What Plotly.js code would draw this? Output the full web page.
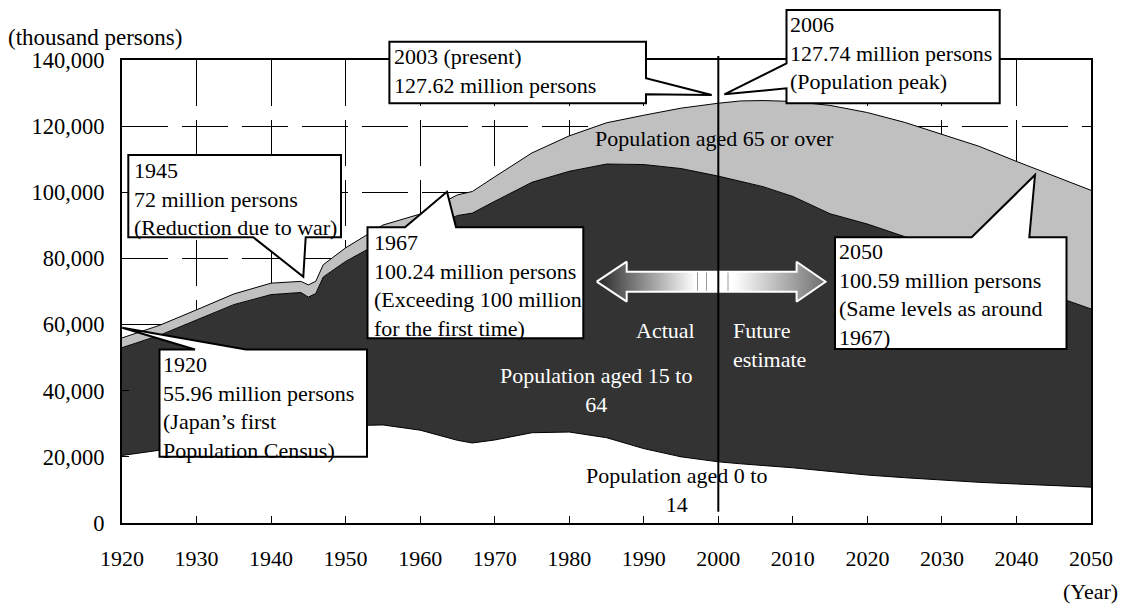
<!DOCTYPE html>
<html>
<head>
<meta charset="utf-8">
<script src="https://cdn.plot.ly/plotly-3.0.1.min.js"></script>
<style>
  html, body { margin: 0; padding: 0; background: #ffffff; }
  #chart { width: 1127px; height: 605px; }
</style>
</head>
<body>
<div id="chart"></div>
<script>
// Population of Japan by age group, 1920-2050 (thousand persons)
const years = [1920, 1925, 1930, 1935, 1940, 1944, 1945, 1946, 1947, 1950, 1955, 1960, 1965, 1967, 1970,
               1975, 1980, 1985, 1990, 1995, 2000, 2003, 2006, 2010, 2015, 2020, 2025, 2030, 2035, 2040, 2045, 2050];
const age0to14 = [20420, 21920, 23580, 25550, 26370, 26400, 26480, 26800, 27570, 29430, 29650, 28070, 25000, 24200, 25100,
                  27300, 27510, 25800, 22490, 20010, 18500, 17900, 17400, 16700, 15600, 14500, 13700, 12900, 12300, 11800, 11300, 10840];
const age15to64 = [32600, 34800, 37810, 40480, 42700, 43300, 41820, 42600, 46830, 49660, 55640, 60000, 67970, 69500, 72170,
                   75730, 78830, 82740, 85900, 87170, 86390, 85400, 84300, 82040, 77900, 75900, 72900, 69450, 65400, 61200, 57400, 53890];
const age65over = [2940, 3020, 3060, 3220, 3450, 3360, 3700, 3700, 3700, 4110, 4790, 5350, 6240, 6540, 7400,
                   8870, 10720, 12470, 14900, 18260, 22040, 24320, 26040, 28730, 32770, 33710, 34540, 35230, 36190, 36340, 36260, 35860];

const seriesNames = ["Population aged 0 to 14", "Population aged 15 to 64", "Population aged 65 or over"];
const presentYear = 2000;

// plot frame in page pixels
const L = 122, T = 60, W = 969, H = 463;
const xRange = [1920, 2050], yRange = [0, 140000];
const fx = x => (x - L) / W;                 // page px -> paper x
const fy = y => (T + H - y) / H;             // page px -> paper y
const dx = x => xRange[0] + (x - L) / W * (xRange[1] - xRange[0]);  // page px -> year
const dy = y => (T + H - y) / H * (yRange[1] - yRange[0]);          // page px -> value

const FONT = "Liberation Serif, Times New Roman, serif";

const areaLine = { color: "#000000", width: 1 };
const traces = [
  { x: years, y: age0to14, name: seriesNames[0], type: "scatter", mode: "lines",
    stackgroup: "pop", fillcolor: "#ffffff", line: areaLine, hoverinfo: "skip" },
  { x: years, y: age15to64, name: seriesNames[1], type: "scatter", mode: "lines",
    stackgroup: "pop", fillcolor: "#333333", line: areaLine, hoverinfo: "skip" },
  { x: years, y: age65over, name: seriesNames[2], type: "scatter", mode: "lines",
    stackgroup: "pop", fillcolor: "#c0c0c0", line: areaLine, hoverinfo: "skip" }
];

// double-headed arrow between "Actual" and "Future estimate"
const arrowPx = [[596.7, 281.7], [626.7, 261.7], [626.7, 271.7], [796.6, 271.7], [796.6, 261.7], [825.5, 281.7],
                 [796.6, 301.7], [796.6, 291.7], [626.7, 291.7], [626.7, 301.7], [596.7, 281.7]];
traces.push({
  x: arrowPx.map(p => dx(p[0])), y: arrowPx.map(p => dy(p[1])),
  type: "scatter", mode: "lines", fill: "toself", hoverinfo: "skip", showlegend: false,
  line: { color: "#ffffff", width: 2 },
  fillgradient: {
    type: "horizontal",
    colorscale: [[0, "#262626"], [0.43, "#ffffff"], [0.6, "#ffffff"], [1, "#6e6e6e"]]
  }
});

function pathOf(pts) {
  return "M" + pts.map(p => fx(p[0]).toFixed(5) + "," + fy(p[1]).toFixed(5)).join("L") + "Z";
}
function callout(pts) {
  return { type: "path", xref: "paper", yref: "paper", layer: "above",
           path: pathOf(pts), fillcolor: "#ffffff", line: { color: "#000000", width: 2 } };
}

const shapes = [
  // present-year divider
  { type: "line", xref: "x", yref: "paper", x0: presentYear, x1: presentYear, y0: fy(511.7), y1: fy(56),
    layer: "above", line: { color: "#000000", width: 2 } },
  // striping in the middle of the arrow
  ...[697.5, 706.5, 728].map(x => ({ type: "line", xref: "paper", yref: "paper", x0: fx(x), x1: fx(x),
    y0: fy(272.5), y1: fy(290.9), layer: "above", line: { color: "#9a9a9a", width: 1 } })),
  // 2003 (present)
  callout([[389.4, 41.7], [646, 41.7], [646, 78.3], [711.7, 95], [646, 94.3], [646, 103.3], [389.4, 103.3]]),
  // 2006 peak
  callout([[786.5, 10], [999.7, 10], [999.7, 103.3], [786.5, 103.3], [786.5, 88.3], [724.4, 94.3], [786.5, 63.3]]),
  // 1945
  callout([[128.3, 155], [341, 155], [341, 237.3], [305.7, 237.3], [303.3, 276.7], [253.3, 237.3], [128.3, 237.3]]),
  // 1967
  callout([[367.5, 227.3], [405, 227.3], [447, 191.7], [456, 227.3], [583.3, 227.3], [583.3, 338.3], [367.5, 338.3]]),
  // 1920
  callout([[159.5, 349.5], [195, 349.5], [122.3, 327.7], [246, 349.5], [367, 349.5], [367, 456.7], [159.5, 456.7]]),
  // 2050
  callout([[835, 237.3], [971.7, 237.3], [1035, 175], [1029.3, 237.3], [1066.5, 237.3], [1066.5, 349], [835, 349]])
];

function note(text, x, y, opts) {
  return Object.assign({
    text: text, xref: "paper", yref: "paper", x: fx(x), y: fy(y),
    xanchor: "left", yanchor: "middle", align: "left", showarrow: false,
    font: { family: FONT, size: 22, color: "#000000" }
  }, opts || {});
}
const white = { family: FONT, size: 22, color: "#ffffff" };

const annotations = [
  note("(thousand persons)", 6, 37.5, { font: { family: FONT, size: 23, color: "#000000" } }),
  note("(Year)", 1120, 591, { xanchor: "right" }),
  note("2003 (present)<br>127.62 million persons", 392, 70.8),
  note("2006<br>127.74 million persons<br>(Population peak)", 788, 53.3),
  note("1945<br>72 million persons<br>(Reduction due to war)", 131.5, 198.5),
  note("1967<br>100.24 million persons<br>(Exceeding 100 million<br>for the first time)", 371.5, 285),
  note("1920<br>55.96 million persons<br>(Japan\u2019s first<br>Population Census)", 160.5, 407),
  note("2050<br>100.59 million persons<br>(Same levels as around<br>1967)", 837, 294),
  note("Population aged 65 or over", 714.5, 138.3, { xanchor: "center", align: "center" }),
  note("Population aged 15 to<br>64", 596, 390, { xanchor: "center", align: "center", font: white }),
  note("Population aged 0 to<br>14", 676, 490, { xanchor: "center", align: "center" }),
  note("Actual", 665, 330, { xanchor: "center", align: "center", font: white }),
  note("Future<br>estimate", 731, 345.3, { font: white })
];

const axisFont = { family: FONT, size: 22, color: "#000000" };
const layout = {
  width: 1127, height: 605,
  margin: { l: L, r: 1127 - L - W, t: T, b: 605 - T - H, pad: 0 },
  paper_bgcolor: "#ffffff", plot_bgcolor: "#ffffff",
  showlegend: false,
  font: { family: FONT, size: 22, color: "#000000" },
  xaxis: {
    range: xRange, tick0: 1920, dtick: 10, ticks: "inside", ticklen: 7, tickwidth: 1, tickcolor: "#000000",
    showline: true, mirror: true, linecolor: "#000000", linewidth: 2,
    showgrid: true, gridcolor: "#000000", gridwidth: 1, griddash: "46px,14px",
    zeroline: false, tickfont: axisFont, ticklabelstandoff: 15, fixedrange: true
  },
  yaxis: {
    range: yRange, dtick: 20000, tickformat: ",d", ticks: "inside", ticklen: 7, tickwidth: 1, tickcolor: "#000000",
    showline: true, mirror: true, linecolor: "#000000", linewidth: 2,
    showgrid: true, gridcolor: "#000000", gridwidth: 1, griddash: "46px,14px",
    zeroline: false, tickfont: { family: FONT, size: 22.5, color: "#000000" }, ticklabelstandoff: 11, fixedrange: true
  },
  shapes: shapes,
  annotations: annotations
};

Plotly.newPlot("chart", traces, layout, { displayModeBar: false, staticPlot: true });
</script>
</body>
</html>
